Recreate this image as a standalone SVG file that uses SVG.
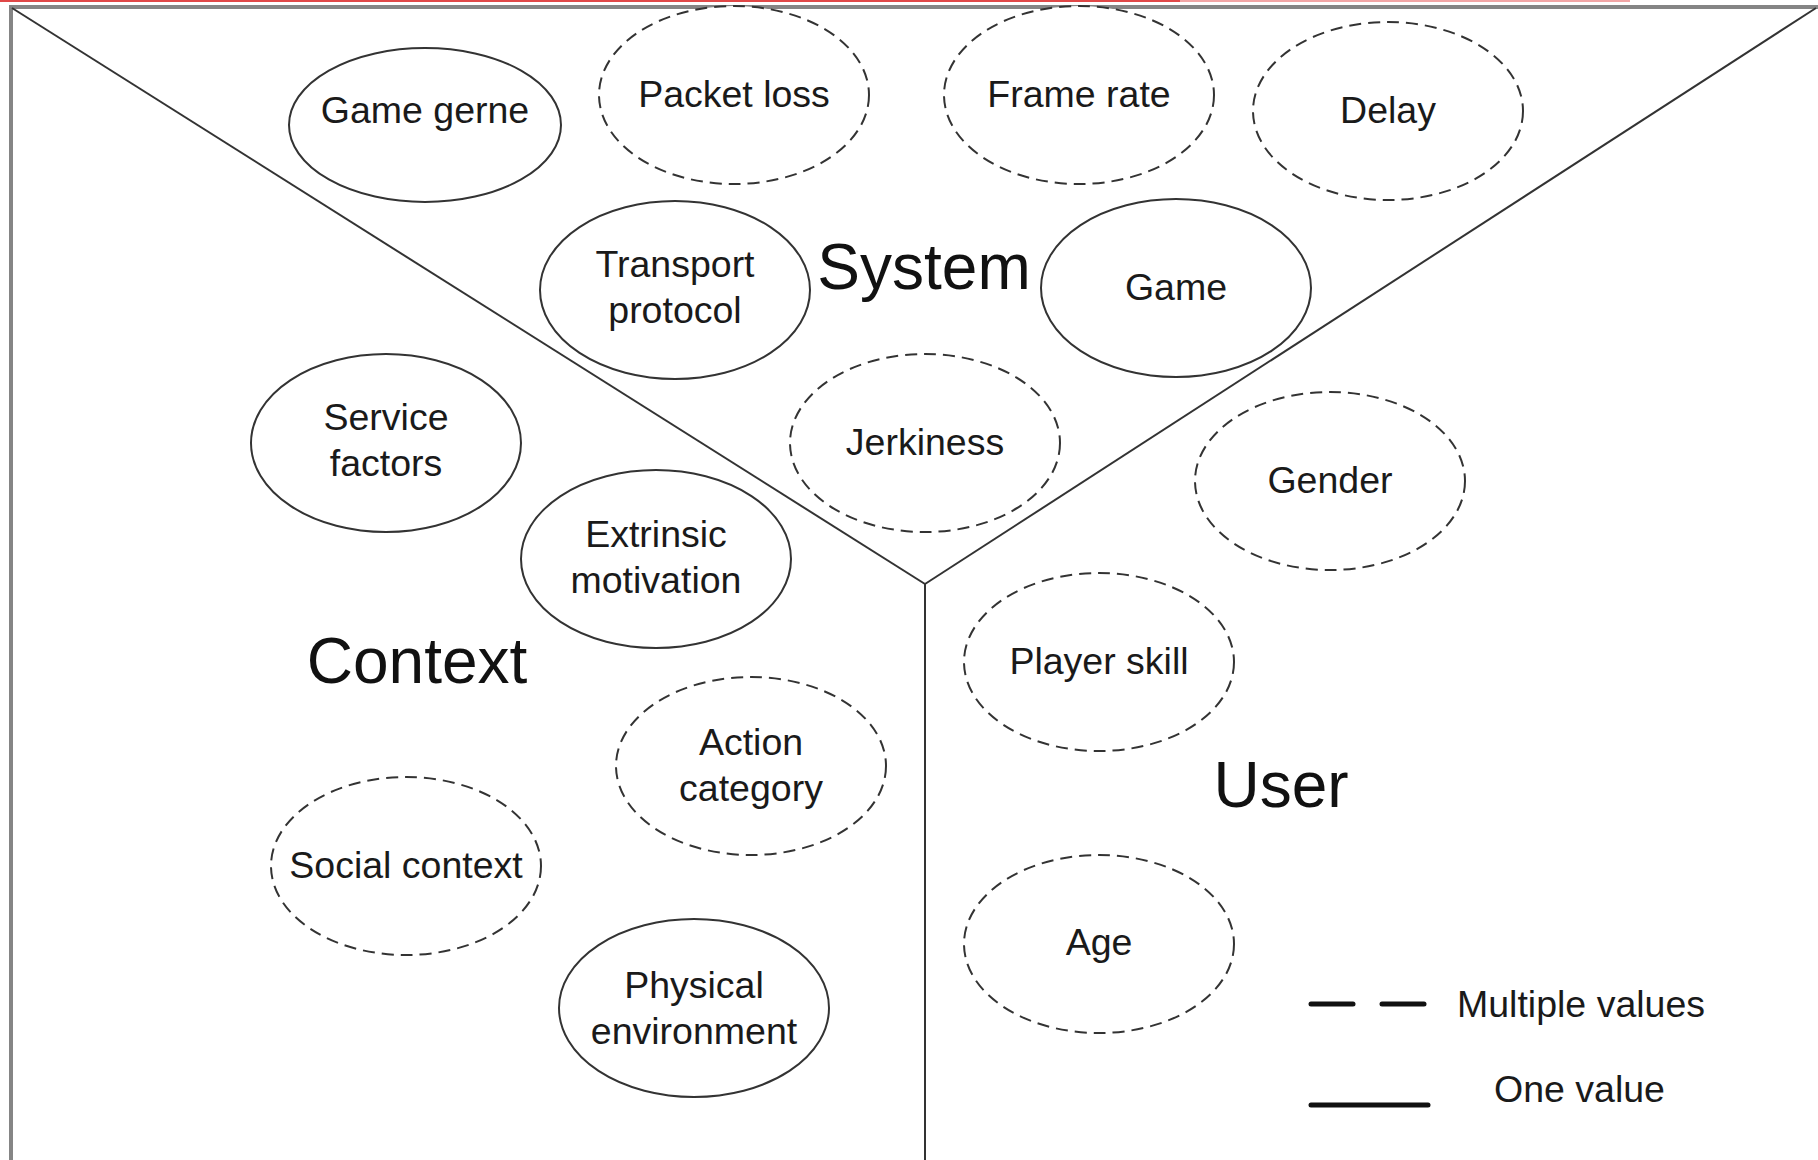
<svg xmlns="http://www.w3.org/2000/svg" width="1818" height="1160" viewBox="0 0 1818 1160">
  <style>
    .node { fill: #ffffff; stroke: #333333; stroke-width: 2; }
    .multi { stroke-dasharray: 12 7; }
    .lbl { font-family: "Liberation Sans", Arial, sans-serif; font-size: 37.5px; fill: #1a1a1a; text-anchor: middle; }
    .area { font-family: "Liberation Sans", Arial, sans-serif; font-size: 64px; fill: #111111; text-anchor: middle; }
    .divider { stroke: #333333; stroke-width: 2; fill: none; }
    .key { stroke: #111111; stroke-width: 5; stroke-linecap: round; fill: none; }
  </style>

  <rect width="1818" height="1160" fill="#ffffff"/>

  <!-- window frame -->
  <g id="frame">
    <rect x="0" y="0" width="1180" height="2" fill="#e04848"/>
    <rect x="1180" y="0" width="450" height="2" fill="#f2a6a6"/>
    <rect x="9" y="5" width="1809" height="4" fill="#858585"/>
    <rect x="9" y="5" width="4" height="1155" fill="#858585"/>
  </g>

  <!-- dividers between the three areas -->
  <g id="connectors">
    <line class="divider" x1="12" y1="8" x2="925" y2="584"/>
    <line class="divider" x1="925" y1="584" x2="1816" y2="8"/>
    <line class="divider" x1="925" y1="584" x2="925" y2="1160"/>
  </g>

  <!-- area titles -->
  <g id="titles">
    <text class="area" x="924" y="289">System</text>
    <text class="area" x="417" y="683">Context</text>
    <text class="area" x="1281" y="807">User</text>
  </g>

  <!-- System factors -->
  <g id="game-gerne">
    <ellipse class="node" cx="425" cy="125" rx="136" ry="77"/>
    <text class="lbl" x="425" y="123">Game gerne</text>
  </g>
  <g id="packet-loss">
    <ellipse class="node multi" cx="734" cy="95" rx="135" ry="89"/>
    <text class="lbl" x="734" y="107">Packet loss</text>
  </g>
  <g id="frame-rate">
    <ellipse class="node multi" cx="1079" cy="95" rx="135" ry="89"/>
    <text class="lbl" x="1079" y="107">Frame rate</text>
  </g>
  <g id="delay">
    <ellipse class="node multi" cx="1388" cy="111" rx="135" ry="89"/>
    <text class="lbl" x="1388" y="123">Delay</text>
  </g>
  <g id="transport-protocol">
    <ellipse class="node" cx="675" cy="290" rx="135" ry="89"/>
    <text class="lbl" x="675" y="277">Transport</text>
    <text class="lbl" x="675" y="323">protocol</text>
  </g>
  <g id="game">
    <ellipse class="node" cx="1176" cy="288" rx="135" ry="89"/>
    <text class="lbl" x="1176" y="300">Game</text>
  </g>
  <g id="jerkiness">
    <ellipse class="node multi" cx="925" cy="443" rx="135" ry="89"/>
    <text class="lbl" x="925" y="455">Jerkiness</text>
  </g>

  <!-- Context factors -->
  <g id="service-factors">
    <ellipse class="node" cx="386" cy="443" rx="135" ry="89"/>
    <text class="lbl" x="386" y="430">Service</text>
    <text class="lbl" x="386" y="476">factors</text>
  </g>
  <g id="extrinsic-motivation">
    <ellipse class="node" cx="656" cy="559" rx="135" ry="89"/>
    <text class="lbl" x="656" y="547">Extrinsic</text>
    <text class="lbl" x="656" y="593">motivation</text>
  </g>
  <g id="action-category">
    <ellipse class="node multi" cx="751" cy="766" rx="135" ry="89"/>
    <text class="lbl" x="751" y="755">Action</text>
    <text class="lbl" x="751" y="801">category</text>
  </g>
  <g id="social-context">
    <ellipse class="node multi" cx="406" cy="866" rx="135" ry="89"/>
    <text class="lbl" x="406" y="878">Social context</text>
  </g>
  <g id="physical-environment">
    <ellipse class="node" cx="694" cy="1008" rx="135" ry="89"/>
    <text class="lbl" x="694" y="998">Physical</text>
    <text class="lbl" x="694" y="1044">environment</text>
  </g>

  <!-- User factors -->
  <g id="gender">
    <ellipse class="node multi" cx="1330" cy="481" rx="135" ry="89"/>
    <text class="lbl" x="1330" y="493">Gender</text>
  </g>
  <g id="player-skill">
    <ellipse class="node multi" cx="1099" cy="662" rx="135" ry="89"/>
    <text class="lbl" x="1099" y="674">Player skill</text>
  </g>
  <g id="age">
    <ellipse class="node multi" cx="1099" cy="944" rx="135" ry="89"/>
    <text class="lbl" x="1099" y="955">Age</text>
  </g>

  <!-- legend -->
  <g id="legend">
    <line class="key" x1="1311" y1="1004" x2="1353" y2="1004"/>
    <line class="key" x1="1382" y1="1004" x2="1424" y2="1004"/>
    <text class="lbl" x="1457" y="1017" style="text-anchor:start">Multiple values</text>
    <line class="key" x1="1311" y1="1105" x2="1428" y2="1105"/>
    <text class="lbl" x="1494" y="1102" style="text-anchor:start">One value</text>
  </g>
</svg>
